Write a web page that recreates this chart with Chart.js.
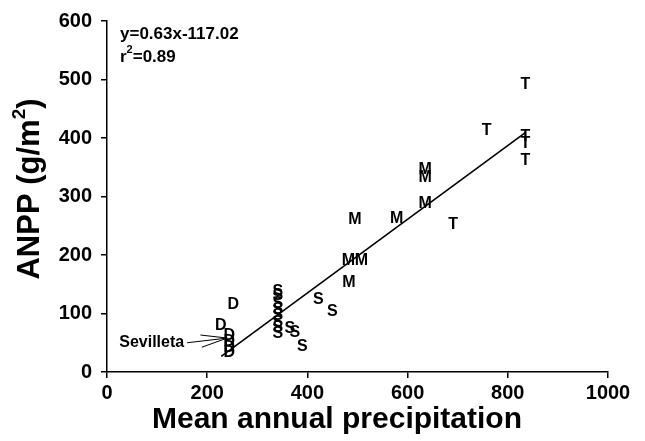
<!DOCTYPE html>
<html>
<head>
<meta charset="utf-8">
<script src="https://cdn.jsdelivr.net/npm/chart.js@4"></script>
<style>
  html, body { margin: 0; padding: 0; background: #fff; }
  #wrap { width: 645px; height: 441px; }
</style>
</head>
<body>
<div id="wrap"><canvas id="chart"></canvas></div>
<script>
// axis ticks
const xTicks = [0, 200, 400, 600, 800, 1000];
const yTicks = [0, 100, 200, 300, 400, 500, 600];

// sites, by letter: mean annual precipitation (x) and ANPP (y)
const dPrecip = [252, 227, 244, 244, 244, 244];
const dAnpp   = [117, 81, 64, 54, 44, 35];

const sPrecip = [341, 341, 341, 341, 341, 341, 341, 341, 365, 375, 390, 422, 450];
const sAnpp   = [140, 132, 118, 108, 98, 86, 77, 68, 76, 69, 45, 126, 105];

const mPrecip = [635, 635, 635, 578, 495, 482, 508, 483];
const mAnpp   = [347, 334, 289, 264, 263, 193, 192, 154];

const tPrecip = [835, 835, 835, 835, 758, 691];
const tAnpp   = [493, 404, 393, 363, 415, 254];

// regression line
const fitSlope = 0.63;
const fitIntercept = -117.02;
const fitRange = [228, 835];

// Sevilleta callout: label position and arrow tip (data units)
const calloutLabel = [154, 50];
const calloutTip = [240, 58];

const FONT = '"Liberation Sans", Arial, Helvetica, sans-serif';

function pairs(xs, ys) {
    return xs.map((x, i) => ({ x: x, y: ys[i] }));
}

const fitPoints = fitRange.map(x => ({ x: x, y: fitSlope * x + fitIntercept }));

// draws each site as its letter
const letterMarks = {
    id: 'letterMarks',
    afterDatasetsDraw(chart) {
        const ctx = chart.ctx;
        ctx.save();
        ctx.font = 'bold 16px ' + FONT;
        ctx.fillStyle = '#000';
        ctx.textAlign = 'center';
        ctx.textBaseline = 'middle';
        chart.data.datasets.forEach((ds, i) => {
            if (!ds.letter) return;
            chart.getDatasetMeta(i).data.forEach(pt => {
                ctx.fillText(ds.letter, pt.x, pt.y + 1);
            });
        });
        ctx.restore();
    }
};

// axis titles, equation and the Sevilleta arrow
const extras = {
    id: 'extras',
    afterDraw(chart) {
        const ctx = chart.ctx;
        const area = chart.chartArea;
        const xs = chart.scales.x;
        const ys = chart.scales.y;
        ctx.save();
        ctx.fillStyle = '#000';
        ctx.strokeStyle = '#000';

        // equation
        ctx.font = 'bold 17px ' + FONT;
        ctx.textAlign = 'left';
        ctx.textBaseline = 'middle';
        const ex = area.left + 13;
        ctx.fillText('y=0.63x-117.02', ex, area.top + 13);
        ctx.fillText('r', ex, area.top + 36);
        const w = ctx.measureText('r').width;
        ctx.font = 'bold 11px ' + FONT;
        ctx.fillText('2', ex + w, area.top + 29);
        const w2 = ctx.measureText('2').width;
        ctx.font = 'bold 17px ' + FONT;
        ctx.fillText('=0.89', ex + w + w2, area.top + 36);

        // Sevilleta label + arrow
        const lx = xs.getPixelForValue(calloutLabel[0]);
        const ly = ys.getPixelForValue(calloutLabel[1]);
        const tx = xs.getPixelForValue(calloutTip[0]);
        const ty = ys.getPixelForValue(calloutTip[1]);
        ctx.font = 'bold 16px ' + FONT;
        ctx.textAlign = 'right';
        ctx.fillText('Sevilleta', lx, ly);
        ctx.lineWidth = 1;
        ctx.beginPath();
        ctx.moveTo(lx + 3, ly);
        ctx.lineTo(tx, ty);
        const ang = Math.atan2(ly - ty, lx + 3 - tx);
        [-0.23, 0.23].forEach(d => {
            ctx.moveTo(tx, ty);
            ctx.lineTo(tx + 27 * Math.cos(ang + d), ty + 27 * Math.sin(ang + d));
        });
        ctx.stroke();

        // axis titles
        ctx.font = 'bold 30px ' + FONT;
        ctx.textAlign = 'center';
        ctx.textBaseline = 'middle';
        ctx.fillText('Mean annual precipitation', 337, 420);

        ctx.translate(30, 189);
        ctx.rotate(-Math.PI / 2);
        ctx.font = 'bold 31px ' + FONT;
        const main = 'ANPP (g/m';
        const wm = ctx.measureText(main).width;
        const wc = ctx.measureText(')').width;
        ctx.font = 'bold 19px ' + FONT;
        const ws = ctx.measureText('2').width;
        let px = -(wm + ws + wc) / 2;
        ctx.textAlign = 'left';
        ctx.font = 'bold 31px ' + FONT;
        ctx.fillText(main, px, 0);
        px += wm;
        ctx.font = 'bold 19px ' + FONT;
        ctx.fillText('2', px, -10);
        px += ws;
        ctx.font = 'bold 31px ' + FONT;
        ctx.fillText(')', px, 0);
        ctx.restore();
    }
};

function letterSet(letter, xs, ys) {
    return {
        type: 'scatter',
        letter: letter,
        data: pairs(xs, ys),
        pointRadius: 0,
        pointHoverRadius: 0
    };
}

const tickFont = { family: FONT, size: 20, weight: 'bold' };

new Chart(document.getElementById('chart'), {
    type: 'scatter',
    data: {
        datasets: [
            {
                type: 'line',
                data: fitPoints,
                borderColor: '#000',
                borderWidth: 1.6,
                pointRadius: 0,
                fill: false,
                tension: 0
            },
            letterSet('D', dPrecip, dAnpp),
            letterSet('S', sPrecip, sAnpp),
            letterSet('M', mPrecip, mAnpp),
            letterSet('T', tPrecip, tAnpp)
        ]
    },
    options: {
        responsive: true,
        maintainAspectRatio: false,
        animation: false,
        layout: { padding: { left: 50, top: 21, right: 37, bottom: 0 } },
        plugins: {
            legend: { display: false },
            tooltip: { enabled: false }
        },
        scales: {
            x: {
                type: 'linear',
                min: 0,
                max: 1000,
                afterBuildTicks: s => { s.ticks = xTicks.map(v => ({ value: v })); },
                afterFit: s => { s.height = 69; },
                border: { display: true, color: '#000', width: 1.5 },
                grid: { drawOnChartArea: false, drawTicks: true, tickLength: 6, color: '#000', lineWidth: 1.5 },
                ticks: { color: '#000', padding: 3, maxRotation: 0, font: tickFont, callback: v => String(v) }
            },
            y: {
                type: 'linear',
                min: 0,
                max: 600,
                afterBuildTicks: s => { s.ticks = yTicks.map(v => ({ value: v })); },
                afterFit: s => { s.width = 57; },
                border: { display: true, color: '#000', width: 1.5 },
                grid: { drawOnChartArea: false, drawTicks: true, tickLength: 6, color: '#000', lineWidth: 1.5 },
                ticks: { color: '#000', padding: 9, font: tickFont, callback: v => String(v) }
            }
        }
    },
    plugins: [letterMarks, extras]
});
</script>
</body>
</html>
